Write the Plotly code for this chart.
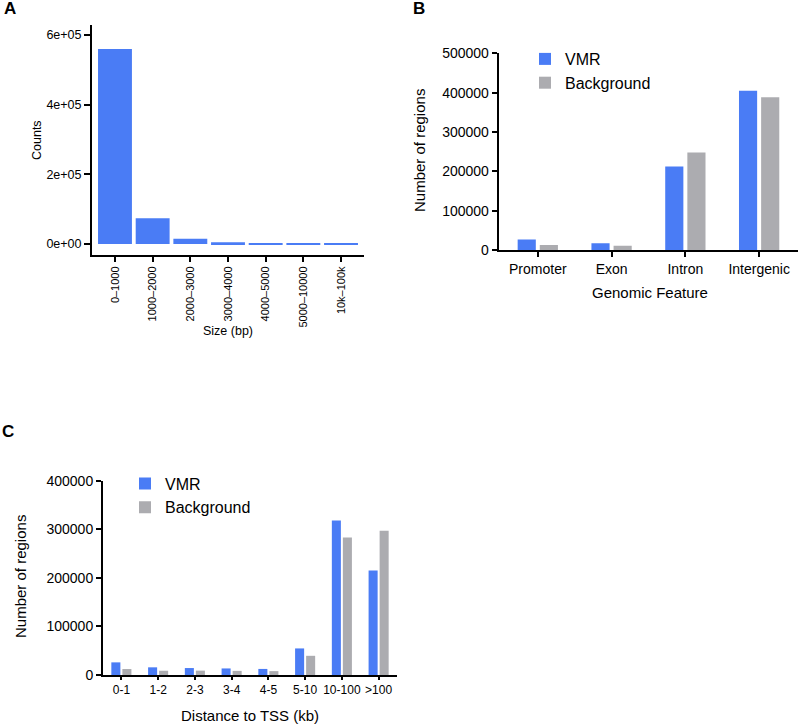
import plotly.graph_objects as go

# ---------------- data ----------------
size_bins = ["0–1000", "1000–2000", "2000–3000", "3000–4000", "4000–5000", "5000–10000", "10k–100k"]
size_counts = [560000, 74000, 15000, 5000, 2200, 1500, 300]
a_tickvals = [0, 200000, 400000, 600000]
a_ticktext = ["0e+00", "2e+05", "4e+05", "6e+05"]

features = ["Promoter", "Exon", "Intron", "Intergenic"]
feat_vmr = [27000, 17000, 212000, 405000]
feat_bg = [13000, 11000, 248000, 388000]

tss_bins = ["0-1", "1-2", "2-3", "3-4", "4-5", "5-10", "10-100", ">100"]
tss_vmr = [26000, 15800, 14300, 13500, 12500, 54700, 318000, 215000]
tss_bg = [12300, 8800, 9000, 8500, 8000, 39500, 283000, 297000]

bc_tickvals = [0, 100000, 200000, 300000, 400000, 500000]
bc_ticktext = ["0", "100000", "200000", "300000", "400000", "500000"]

BLUE = "#4a7cf5"
GRAY = "#acacb0"
FONT = "Arial, Liberation Sans, Helvetica, sans-serif"

W, H = 798, 725
def px(x):
    return x / W
def py(y):
    return 1 - y / H

fig = go.Figure()

fig.add_trace(go.Bar(x=list(range(len(size_bins))), y=size_counts, marker_color=BLUE,
                     marker_line_width=0, width=0.9, showlegend=False,
                     xaxis="x", yaxis="y"))

fig.add_trace(go.Bar(x=list(range(len(features))), y=feat_vmr, name="VMR", marker_color=BLUE,
                     marker_line_width=0, xaxis="x2", yaxis="y2", legend="legend"))
fig.add_trace(go.Bar(x=list(range(len(features))), y=feat_bg, name="Background", marker_color=GRAY,
                     marker_line_width=0, xaxis="x2", yaxis="y2", legend="legend"))

fig.add_trace(go.Bar(x=list(range(len(tss_bins))), y=tss_vmr, name="VMR", marker_color=BLUE,
                     marker_line_width=0, xaxis="x3", yaxis="y3", legend="legend2"))
fig.add_trace(go.Bar(x=list(range(len(tss_bins))), y=tss_bg, name="Background", marker_color=GRAY,
                     marker_line_width=0, xaxis="x3", yaxis="y3", legend="legend2"))

axis_common = dict(showline=True, linecolor="black", linewidth=2, showgrid=False,
                   zeroline=False, ticks="outside", tickcolor="black", tickwidth=2,
                   fixedrange=True, automargin=False)

fig.update_layout(
    template="none",
    width=W, height=H,
    margin=dict(l=0, r=0, t=0, b=0),
    paper_bgcolor="white", plot_bgcolor="white",
    font=dict(family=FONT, color="black"),
    barmode="group", bargap=0.4, bargroupgap=0.18,
    xaxis=dict(domain=[px(92), px(364)], anchor="y", range=[-0.61, 6.61],
               tickvals=list(range(len(size_bins))), ticktext=size_bins, tickangle=-90,
               ticklen=5, tickfont=dict(size=11), **axis_common),
    yaxis=dict(domain=[py(255), py(25)], anchor="x", range=[-31400, 628600],
               tickvals=a_tickvals, ticktext=a_ticktext, ticklen=6,
               tickfont=dict(size=12.5), **axis_common),
    xaxis2=dict(domain=[px(498.7), px(797.5)], anchor="y2", range=[-0.53, 3.52],
                tickvals=list(range(len(features))), ticktext=features,
                ticklen=5, tickfont=dict(size=14), **axis_common),
    yaxis2=dict(domain=[py(250), py(53.3)], anchor="x2", range=[0, 500000],
                tickvals=bc_tickvals, ticktext=bc_ticktext, ticklen=5,
                tickfont=dict(size=14), **axis_common),
    xaxis3=dict(domain=[px(103), px(397)], anchor="y3", range=[-0.5, 7.5],
                tickvals=list(range(len(tss_bins))), ticktext=tss_bins,
                ticklen=3, tickfont=dict(size=12), **axis_common),
    yaxis3=dict(domain=[py(675), py(480.7)], anchor="x3", range=[0, 400000],
                tickvals=bc_tickvals[:5], ticktext=bc_ticktext[:5], ticklen=5,
                tickfont=dict(size=14), **axis_common),
    legend=dict(x=px(525), y=py(42), xanchor="left", yanchor="top",
                font=dict(size=16), bgcolor="rgba(0,0,0,0)", traceorder="normal"),
    legend2=dict(x=px(125), y=py(466.5), xanchor="left", yanchor="top",
                 font=dict(size=16), bgcolor="rgba(0,0,0,0)", traceorder="normal"),
)

def ann(text, x, y, size, angle=0, bold=False):
    fig.add_annotation(text=f"<b>{text}</b>" if bold else text, x=px(x), y=py(y),
                       xref="paper", yref="paper", showarrow=False, textangle=angle,
                       font=dict(size=size, family=FONT, color="black"),
                       xanchor="center", yanchor="middle")

# axis titles
ann("Counts", 37, 140, 12.5, angle=-90)
ann("Size (bp)", 228, 331, 12.5)
ann("Number of regions", 419, 151, 15, angle=-90)
ann("Genomic Feature", 650, 292, 15)
ann("Number of regions", 20, 577, 15, angle=-90)
ann("Distance to TSS (kb)", 250, 715, 15)
# panel letters
ann("A", 10, 9, 17, bold=True)
ann("B", 419, 9, 17, bold=True)
ann("C", 8, 431, 17, bold=True)

fig.write_html("out.html", config={"displayModeBar": False},
               post_script="document.body.style.margin='0';document.body.style.overflow='hidden';")
